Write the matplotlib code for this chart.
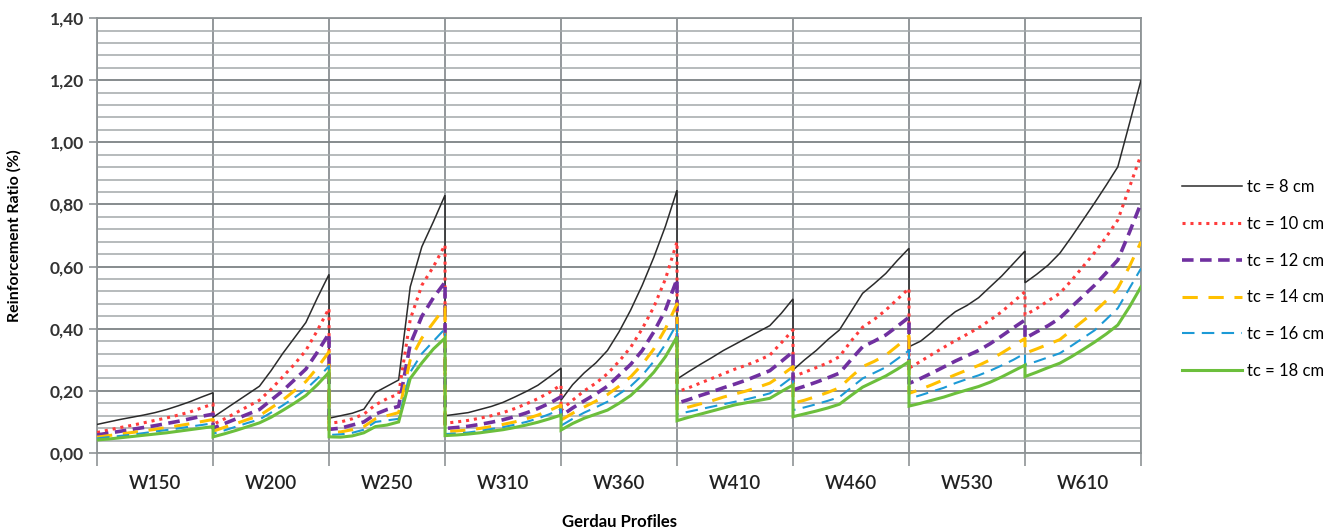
import numpy as np
import matplotlib
matplotlib.use('Agg')
import matplotlib.pyplot as plt
from matplotlib.ticker import FixedLocator, FuncFormatter

plt.rcParams['font.family'] = ['Lato', 'DejaVu Sans']

# profile groups on the x axis
profiles = ['W150', 'W200', 'W250', 'W310', 'W360', 'W410', 'W460', 'W530', 'W610']

# reinforcement ratio (%) per profile group, one list per slab thickness
tc8 = [
    [0.092, 0.100, 0.108, 0.115, 0.122, 0.130, 0.140, 0.152, 0.165, 0.180, 0.194],
    [0.115, 0.140, 0.165, 0.190, 0.215, 0.265, 0.320, 0.370, 0.420, 0.500, 0.575],
    [0.112, 0.120, 0.128, 0.141, 0.195, 0.215, 0.235, 0.535, 0.664, 0.745, 0.830],
    [0.120, 0.125, 0.130, 0.140, 0.150, 0.163, 0.180, 0.198, 0.218, 0.245, 0.273],
    [0.170, 0.220, 0.258, 0.290, 0.330, 0.390, 0.460, 0.540, 0.630, 0.730, 0.846],
    [0.238, 0.262, 0.285, 0.307, 0.330, 0.350, 0.370, 0.390, 0.410, 0.450, 0.496],
    [0.267, 0.300, 0.330, 0.365, 0.396, 0.455, 0.514, 0.545, 0.578, 0.620, 0.659],
    [0.342, 0.360, 0.390, 0.425, 0.455, 0.475, 0.500, 0.535, 0.570, 0.610, 0.650],
    [0.548, 0.575, 0.605, 0.643, 0.695, 0.750, 0.805, 0.862, 0.921, 1.060, 1.200],
]
tc10 = [
    [0.066, 0.074, 0.082, 0.089, 0.097, 0.105, 0.113, 0.122, 0.132, 0.145, 0.158],
    [0.092, 0.110, 0.130, 0.150, 0.170, 0.205, 0.245, 0.285, 0.330, 0.395, 0.466],
    [0.096, 0.100, 0.110, 0.125, 0.155, 0.175, 0.190, 0.430, 0.540, 0.600, 0.670],
    [0.096, 0.100, 0.105, 0.112, 0.120, 0.130, 0.143, 0.158, 0.175, 0.195, 0.219],
    [0.138, 0.170, 0.200, 0.225, 0.255, 0.295, 0.340, 0.400, 0.470, 0.560, 0.680],
    [0.197, 0.210, 0.225, 0.240, 0.255, 0.270, 0.283, 0.298, 0.315, 0.355, 0.396],
    [0.246, 0.260, 0.275, 0.290, 0.310, 0.360, 0.405, 0.430, 0.460, 0.495, 0.530],
    [0.273, 0.295, 0.318, 0.340, 0.362, 0.382, 0.403, 0.428, 0.455, 0.487, 0.519],
    [0.444, 0.465, 0.490, 0.514, 0.555, 0.600, 0.645, 0.695, 0.750, 0.855, 0.960],
]
tc12 = [
    [0.058, 0.064, 0.070, 0.076, 0.082, 0.088, 0.095, 0.102, 0.110, 0.118, 0.125],
    [0.080, 0.095, 0.110, 0.125, 0.140, 0.170, 0.200, 0.235, 0.270, 0.325, 0.385],
    [0.076, 0.080, 0.090, 0.100, 0.125, 0.140, 0.150, 0.350, 0.440, 0.500, 0.550],
    [0.079, 0.082, 0.086, 0.092, 0.099, 0.107, 0.117, 0.129, 0.143, 0.160, 0.181],
    [0.119, 0.145, 0.168, 0.190, 0.215, 0.250, 0.285, 0.330, 0.390, 0.460, 0.560],
    [0.160, 0.172, 0.185, 0.197, 0.210, 0.222, 0.235, 0.250, 0.265, 0.295, 0.326],
    [0.203, 0.215, 0.228, 0.242, 0.257, 0.300, 0.342, 0.360, 0.380, 0.408, 0.437],
    [0.224, 0.240, 0.258, 0.277, 0.296, 0.313, 0.330, 0.352, 0.377, 0.403, 0.428],
    [0.369, 0.390, 0.410, 0.434, 0.470, 0.505, 0.540, 0.580, 0.621, 0.710, 0.804],
]
tc14 = [
    [0.051, 0.056, 0.061, 0.066, 0.071, 0.076, 0.082, 0.088, 0.094, 0.101, 0.108],
    [0.070, 0.083, 0.095, 0.108, 0.120, 0.145, 0.170, 0.200, 0.230, 0.275, 0.326],
    [0.065, 0.068, 0.075, 0.085, 0.110, 0.120, 0.130, 0.300, 0.370, 0.420, 0.470],
    [0.069, 0.071, 0.074, 0.079, 0.085, 0.092, 0.100, 0.110, 0.122, 0.137, 0.154],
    [0.106, 0.128, 0.148, 0.167, 0.188, 0.215, 0.245, 0.285, 0.335, 0.400, 0.480],
    [0.138, 0.148, 0.158, 0.168, 0.180, 0.190, 0.200, 0.212, 0.225, 0.250, 0.278],
    [0.160, 0.170, 0.182, 0.195, 0.210, 0.245, 0.278, 0.295, 0.315, 0.345, 0.377],
    [0.192, 0.205, 0.220, 0.236, 0.252, 0.267, 0.282, 0.300, 0.322, 0.345, 0.369],
    [0.321, 0.335, 0.350, 0.365, 0.395, 0.425, 0.455, 0.490, 0.530, 0.600, 0.680],
]
tc16 = [
    [0.047, 0.051, 0.055, 0.059, 0.064, 0.069, 0.074, 0.079, 0.085, 0.090, 0.096],
    [0.062, 0.073, 0.085, 0.097, 0.108, 0.130, 0.153, 0.178, 0.205, 0.240, 0.280],
    [0.058, 0.060, 0.065, 0.075, 0.100, 0.105, 0.110, 0.260, 0.320, 0.360, 0.400],
    [0.061, 0.063, 0.066, 0.071, 0.077, 0.083, 0.091, 0.100, 0.111, 0.125, 0.141],
    [0.088, 0.110, 0.130, 0.147, 0.165, 0.190, 0.215, 0.250, 0.295, 0.350, 0.417],
    [0.125, 0.133, 0.141, 0.149, 0.157, 0.165, 0.173, 0.182, 0.192, 0.218, 0.246],
    [0.138, 0.147, 0.157, 0.168, 0.180, 0.210, 0.240, 0.258, 0.276, 0.303, 0.330],
    [0.175, 0.186, 0.198, 0.210, 0.225, 0.238, 0.250, 0.265, 0.282, 0.300, 0.321],
    [0.283, 0.295, 0.308, 0.321, 0.345, 0.370, 0.395, 0.430, 0.466, 0.530, 0.594],
]
tc18 = [
    [0.042, 0.045, 0.049, 0.053, 0.057, 0.061, 0.065, 0.070, 0.075, 0.080, 0.085],
    [0.052, 0.062, 0.073, 0.085, 0.097, 0.115, 0.137, 0.160, 0.185, 0.220, 0.260],
    [0.052, 0.051, 0.055, 0.065, 0.085, 0.090, 0.100, 0.240, 0.290, 0.335, 0.370],
    [0.056, 0.058, 0.061, 0.065, 0.070, 0.075, 0.082, 0.090, 0.099, 0.110, 0.122],
    [0.074, 0.095, 0.112, 0.125, 0.138, 0.160, 0.185, 0.220, 0.260, 0.310, 0.374],
    [0.104, 0.115, 0.125, 0.135, 0.145, 0.155, 0.162, 0.169, 0.176, 0.198, 0.219],
    [0.117, 0.126, 0.135, 0.145, 0.157, 0.185, 0.212, 0.230, 0.248, 0.270, 0.294],
    [0.151, 0.160, 0.170, 0.180, 0.192, 0.203, 0.214, 0.228, 0.245, 0.264, 0.283],
    [0.246, 0.260, 0.275, 0.289, 0.310, 0.333, 0.357, 0.383, 0.412, 0.470, 0.535],
]

series = [
    ('tc = 8 cm', tc8, dict(color='#2b2b2b', lw=1.1, ls='-')),
    ('tc = 10 cm', tc10, dict(color='#ff3b3b', lw=2.2, ls=(0, (1, 1.6)))),
    ('tc = 12 cm', tc12, dict(color='#7030a0', lw=2.6, ls=(0, (3.2, 1.8)))),
    ('tc = 14 cm', tc14, dict(color='#ffc000', lw=2.2, ls=(0, (5, 3.5)))),
    ('tc = 16 cm', tc16, dict(color='#1c9ad6', lw=1.5, ls=(0, (6, 3.5)))),
    ('tc = 18 cm', tc18, dict(color='#6cbf3c', lw=2.2, ls='-')),
]


def flatten(groups):
    xs, ys = [], []
    for g, vals in enumerate(groups):
        n = len(vals)
        xs.append(g + np.arange(n) / (n - 1))
        ys.append(np.array(vals))
    return np.concatenate(xs), np.concatenate(ys)


fig = plt.figure(figsize=(13.37, 5.32), dpi=100)
ax = fig.add_axes([0.0726, 0.1485, 0.7808, 0.8175])

for label, groups, style in series:
    x, y = flatten(groups)
    ax.plot(x, y, label=label, solid_joinstyle='miter', **style, zorder=3)

ngroups = len(profiles)
ax.set_xlim(0, ngroups)
ax.set_ylim(0, 1.40)

grid_c = '#8f9496'
ax.set_yticks(np.arange(0, 1.41, 0.2))
ax.yaxis.set_minor_locator(FixedLocator(np.arange(0, 1.401, 0.04)))
ax.yaxis.set_major_formatter(FuncFormatter(lambda v, p: f'{v:.2f}'.replace('.', ',')))
ax.grid(True, which='major', axis='y', color='#7d8285', lw=1.3, zorder=0)
ax.grid(True, which='minor', axis='y', color='#a3a8aa', lw=1.1, zorder=0)

ax.set_xticks(np.arange(0, ngroups + 1))
ax.set_xticklabels([''] * (ngroups + 1))
ax.set_xticks(np.arange(ngroups) + 0.5, minor=True)
ax.set_xticklabels(profiles, minor=True)
ax.grid(True, which='major', axis='x', color='#8a8f92', lw=1.3, zorder=0)
ax.tick_params(axis='x', which='major', length=9, width=1.2, color=grid_c)
ax.tick_params(axis='x', which='minor', length=0, pad=16, labelsize=13.5, labelcolor='#222222')
ax.tick_params(axis='y', which='major', length=6, width=1.2, color=grid_c,
               labelsize=12.5, labelcolor='#333333')
ax.tick_params(axis='y', which='minor', length=0)
for t in ax.get_yticklabels():
    t.set_fontweight('bold')
for t in ax.get_xticklabels(minor=True):
    t.set_fontweight('semibold')

for s in ax.spines.values():
    s.set_color(grid_c)
    s.set_linewidth(1.3)

ax.set_ylabel('Reinforcement Ratio (%)', fontsize=11.5, fontweight='bold')
ax.yaxis.set_label_coords(-0.072, 0.5)
ax.set_xlabel('Gerdau Profiles', fontsize=12, fontweight='bold')
ax.xaxis.set_label_coords(0.5, -0.14)

leg = ax.legend(loc='center left', bbox_to_anchor=(1.033, 0.40), borderaxespad=0,
                frameon=False, fontsize=12, handlelength=3.6, handletextpad=0.3,
                labelspacing=1.25)

fig.savefig('out.png', dpi=100)
